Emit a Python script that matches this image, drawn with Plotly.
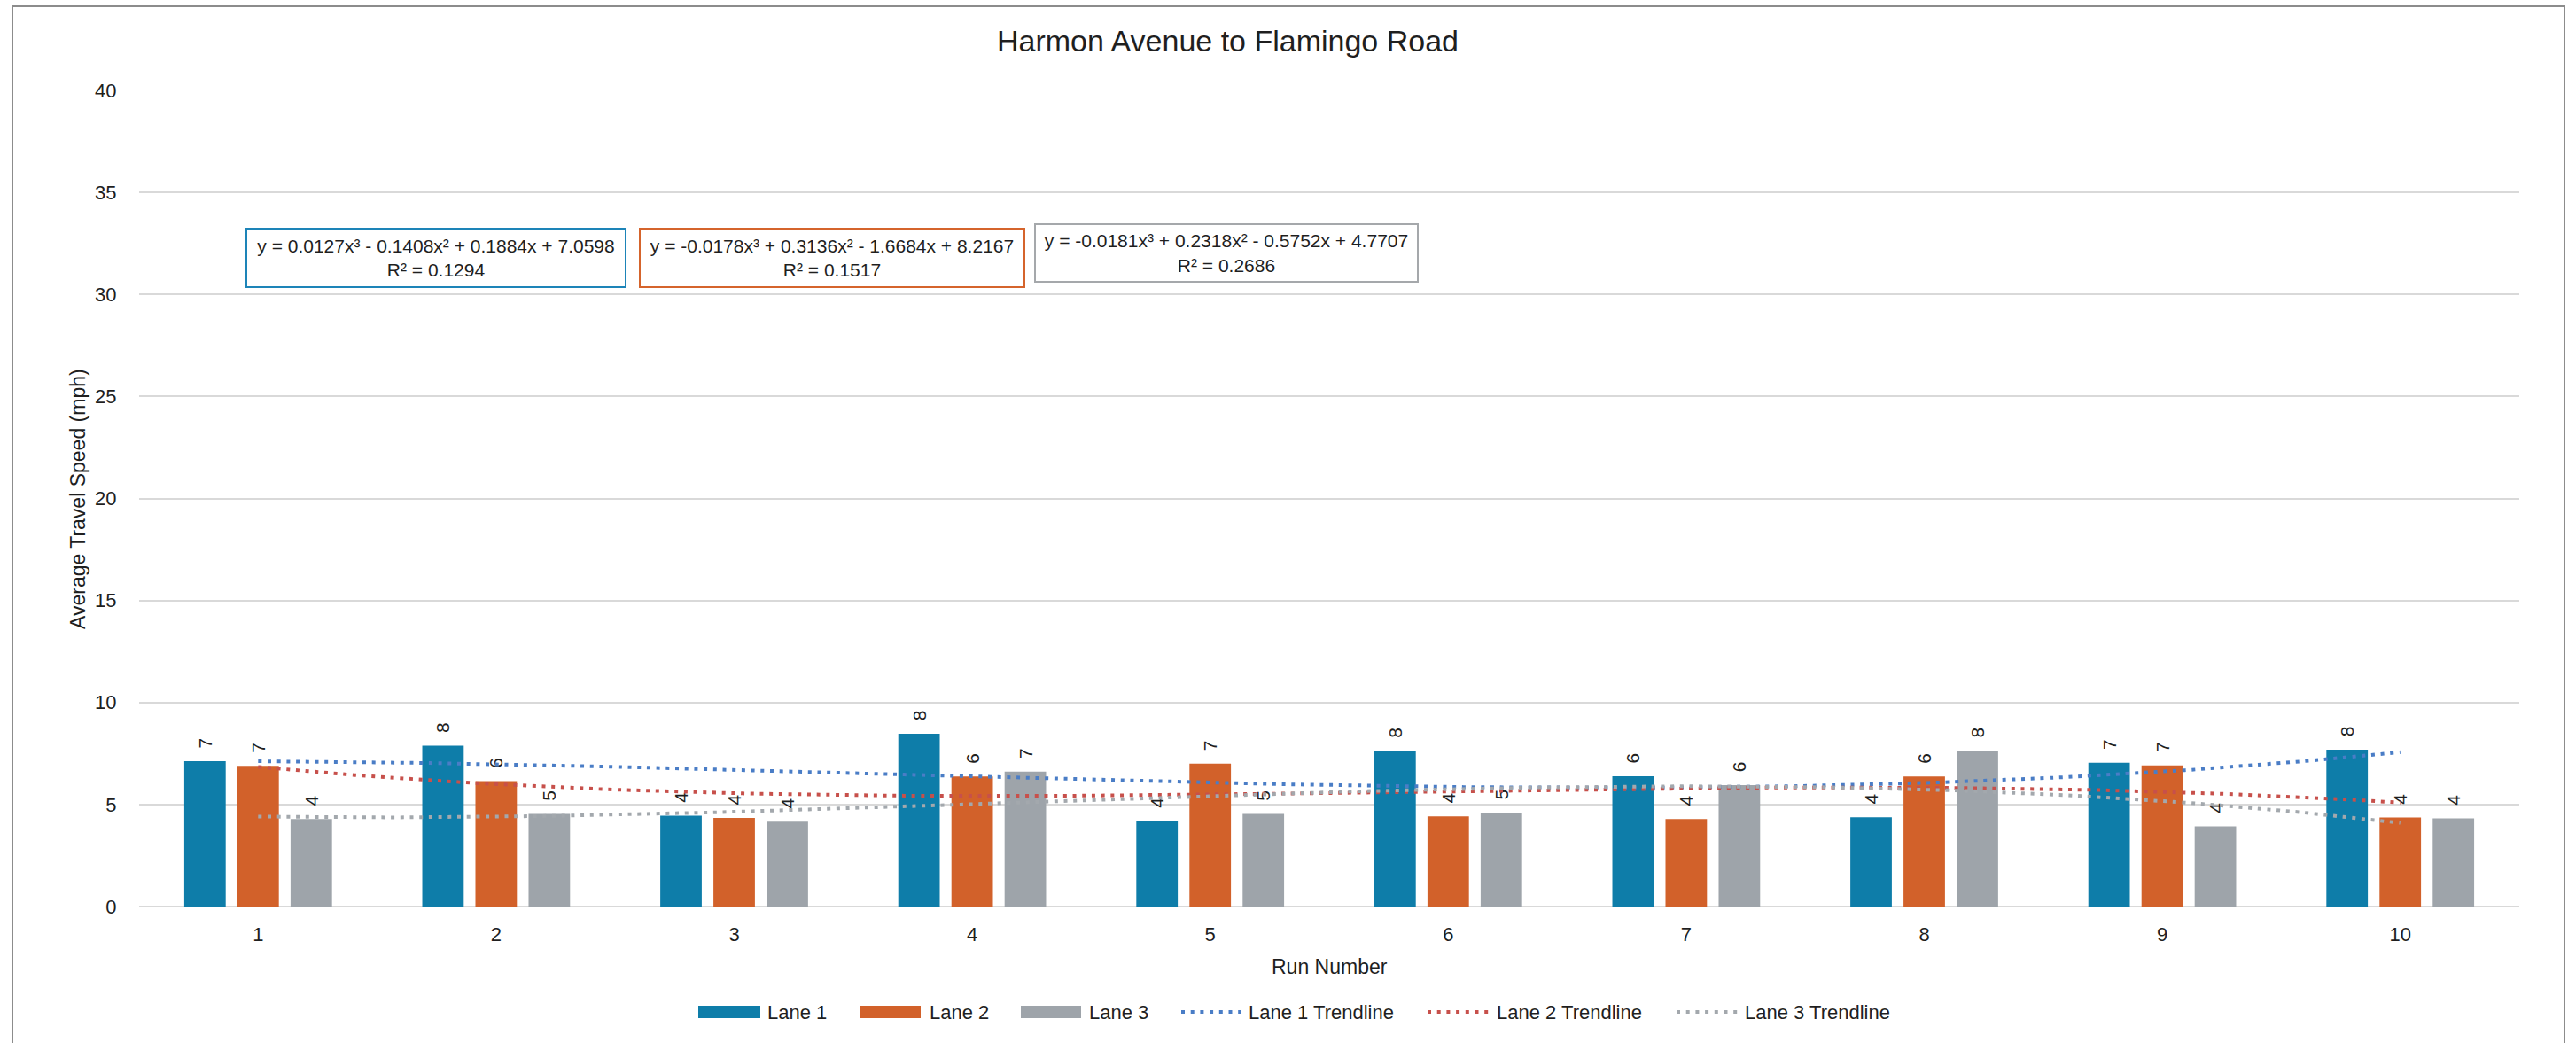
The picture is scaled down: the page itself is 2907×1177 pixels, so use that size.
import numpy as np
import plotly.graph_objects as go

# ---------------- data ----------------
runs = [1, 2, 3, 4, 5, 6, 7, 8, 9, 10]
lane1 = [7.12, 7.88, 4.45, 8.47, 4.19, 7.62, 6.38, 4.38, 7.05, 7.69]
lane2 = [6.89, 6.15, 4.34, 6.37, 7.00, 4.42, 4.29, 6.37, 6.92, 4.37]
lane3 = [4.29, 4.54, 4.16, 6.61, 4.54, 4.60, 5.95, 7.64, 3.93, 4.32]
lane_names = ["Lane 1", "Lane 2", "Lane 3"]
trend_names = ["Lane 1 Trendline", "Lane 2 Trendline", "Lane 3 Trendline"]
# cubic trendline coefficients (as printed on the chart) and R² values
coef1 = [0.0127, -0.1408, 0.1884, 7.0598]
coef2 = [-0.0178, 0.3136, -1.6684, 8.2167]
coef3 = [-0.0181, 0.2318, -0.5752, 4.7707]
r2_values = [0.1294, 0.1517, 0.2686]
y_ticks = [0, 5, 10, 15, 20, 25, 30, 35, 40]
chart_title = "Harmon Avenue to Flamingo Road"
x_title = "Run Number"
y_title = "Average Travel Speed (mph)"

# ---------------- styling ----------------
bar_colors = ["#0E7DA9", "#D2612A", "#9EA4AA"]
trend_colors = ["#4A7DC6", "#C7504B", "#A3A8AD"]
box_colors = ["#1D84B8", "#D5642C", "#A5A8AB"]
FONT = "Liberation Sans, Arial, sans-serif"
TXT = "#1f1f1f"

W, H = 2907, 1177
L, R, T, B = 157, 64, 102, 154
PW, PH = W - L - R, H - T - B


def px(x):
    return (x - L) / PW


def py(y):
    return (H - B - y) / PH


def equation(c, r2):
    s = "y = " + ("-" if c[0] < 0 else "") + f"{abs(c[0]):.4f}x³"
    for v, suf in zip(c[1:], ["x²", "x", ""]):
        s += (" - " if v < 0 else " + ") + f"{abs(v):.4f}{suf}"
    return s + f"<br>R² = {r2:.4f}"


fig = go.Figure()

lanes = [lane1, lane2, lane3]
for name, vals, col in zip(lane_names, lanes, bar_colors):
    fig.add_trace(go.Bar(
        x=runs, y=vals, name=name, marker=dict(color=col, line=dict(width=0)),
        texttemplate="\u00a0\u00a0%{y:.0f}", textposition="outside", textangle=-90,
        textfont=dict(family=FONT, size=21, color=TXT), constraintext="none",
        cliponaxis=False, showlegend=False,
    ))

xs = np.linspace(min(runs), max(runs), 200)
for name, coef, col in zip(trend_names, [coef1, coef2, coef3], trend_colors):
    fig.add_trace(go.Scatter(
        x=xs, y=np.polyval(coef, xs), mode="lines", name=name,
        line=dict(color=col, width=4, dash="4px,6.7px"), showlegend=False,
        hoverinfo="skip",
    ))

annotations = []
shapes = []

# title
annotations.append(dict(text=chart_title, x=px(1385), y=py(46), xref="paper", yref="paper",
                        xanchor="center", yanchor="middle", showarrow=False,
                        font=dict(family=FONT, size=34, color=TXT)))
# axis titles
annotations.append(dict(text=x_title, x=px(1500), y=py(1091), xref="paper", yref="paper",
                        xanchor="center", yanchor="middle", showarrow=False,
                        font=dict(family=FONT, size=23, color=TXT)))
annotations.append(dict(text=y_title, x=px(88), y=py(563), xref="paper", yref="paper",
                        xanchor="center", yanchor="middle", showarrow=False, textangle=-90,
                        font=dict(family=FONT, size=23, color=TXT)))

# equation boxes (center x, center y, width, height in px)
boxes = [(492, 291, 430, 68), (939, 291, 436, 68), (1384, 285.5, 434, 67)]
for (cx, cy, bw, bh), coef, r2, bc in zip(boxes, [coef1, coef2, coef3], r2_values, box_colors):
    annotations.append(dict(text=equation(coef, r2), x=px(cx), y=py(cy), xref="paper", yref="paper",
                            xanchor="center", yanchor="middle", showarrow=False, align="center",
                            width=bw - 6, height=bh - 6, borderpad=1, borderwidth=2,
                            bordercolor=bc, bgcolor="white",
                            font=dict(family=FONT, size=21, color=TXT)))

# custom legend
leg_y = 1142
bar_leg = [(788, 858, 864), (971, 1039, 1047), (1152, 1220, 1227)]
for (x0, x1, tx), name, col in zip(bar_leg, lane_names, bar_colors):
    shapes.append(dict(type="rect", xref="paper", yref="paper", x0=px(x0), x1=px(x1),
                       y0=py(leg_y + 7), y1=py(leg_y - 7), fillcolor=col, line=dict(width=0)))
    annotations.append(dict(text=name, x=px(tx), y=py(leg_y), xref="paper", yref="paper",
                            xanchor="left", yanchor="middle", showarrow=False,
                            font=dict(family=FONT, size=22, color=TXT)))
trend_leg = [(1333, 1401, 1407), (1611, 1680, 1687), (1892, 1961, 1967)]
for (x0, x1, tx), name, col in zip(trend_leg, trend_names, trend_colors):
    shapes.append(dict(type="line", xref="paper", yref="paper", x0=px(x0), x1=px(x1),
                       y0=py(leg_y), y1=py(leg_y), line=dict(color=col, width=4, dash="4px,6.7px")))
    annotations.append(dict(text=name, x=px(tx), y=py(leg_y), xref="paper", yref="paper",
                            xanchor="left", yanchor="middle", showarrow=False,
                            font=dict(family=FONT, size=22, color=TXT)))

# chart-area border
shapes.append(dict(type="rect", xref="paper", yref="paper", x0=px(14), x1=px(2894),
                   y0=py(1185), y1=py(7), line=dict(color="#8C8C8C", width=2),
                   fillcolor="rgba(0,0,0,0)", layer="below"))

fig.update_layout(
    width=W, height=H, autosize=False,
    margin=dict(l=L, r=R, t=T, b=B, pad=0),
    paper_bgcolor="white", plot_bgcolor="white",
    barmode="group", bargap=0.33, bargroupgap=0.22,
    showlegend=False,
    font=dict(family=FONT, color=TXT),
    annotations=annotations, shapes=shapes,
    xaxis=dict(range=[0.5, 10.5], tickvals=runs, ticktext=[str(r) for r in runs],
               showgrid=False, zeroline=False, showline=False,
               ticks="outside", ticklen=12, tickcolor="rgba(0,0,0,0)",
               tickfont=dict(family=FONT, size=22, color=TXT), fixedrange=True),
    yaxis=dict(range=[0, 40], tickvals=y_ticks, showgrid=True, gridcolor="#D9D9D9", gridwidth=2,
               zeroline=True, zerolinecolor="#D9D9D9", zerolinewidth=2, showline=False,
               ticks="outside", ticklen=20, tickcolor="rgba(0,0,0,0)",
               tickfont=dict(family=FONT, size=22, color=TXT), fixedrange=True),
)

fig.write_html("out.html", config={"displayModeBar": False},
               post_script="document.body.style.margin='0';document.body.style.overflow='hidden';")
